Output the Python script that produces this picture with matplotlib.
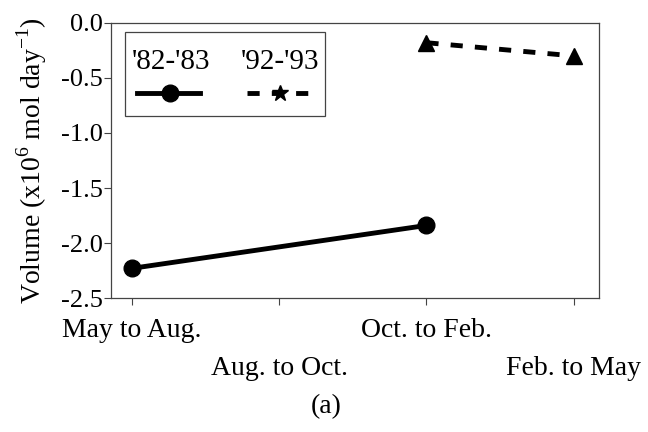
import matplotlib
matplotlib.use("Agg")
import matplotlib.pyplot as plt
from matplotlib.patches import Rectangle
from matplotlib.lines import Line2D

plt.rcParams['font.family'] = ['Liberation Serif', 'DejaVu Serif']
plt.rcParams['mathtext.fontset'] = 'custom'
plt.rcParams['mathtext.rm'] = 'Liberation Serif'
plt.rcParams['axes.unicode_minus'] = False

# Data
periods    = ["May to Aug.", "Aug. to Oct.", "Oct. to Feb.", "Feb. to May"]
x_8283     = [0, 2]
vol_8283   = [-2.23, -1.84]
x_9293     = [2, 3]
vol_9293   = [-0.18, -0.30]
yticks     = [0.0, -0.5, -1.0, -1.5, -2.0, -2.5]

fig = plt.figure(figsize=(6.48, 4.32), dpi=100)
ax = fig.add_axes([0.171, 0.310, 0.753, 0.637])

ax.plot(x_8283, vol_8283, color='black', lw=3.5, marker='o', ms=12)
ax.plot(x_9293, vol_9293, color='black', lw=3.5, ls=(0, (2.5, 2.5)), marker='^', ms=12)

ax.set_xlim(-0.143, 3.17)
ax.set_ylim(-2.5, 0.0)
ax.set_yticks(yticks)
ax.set_yticklabels(["%.1f" % v for v in yticks], fontsize=19)
ax.set_xticks(range(len(periods)))
ax.set_xticklabels(periods, fontsize=20)
# staggered category labels
for i, t in enumerate(ax.xaxis.get_major_ticks()):
    t.set_pad(9 if i % 2 == 0 else 37)

ax.tick_params(axis='both', direction='out', length=5, width=0.8, color='#444444')
ax.tick_params(axis='y', pad=1)
for s in ax.spines.values():
    s.set_linewidth(0.9)
    s.set_color('#444444')

ax.set_ylabel("Volume (x10$^6$ mol day$^{-1}$)", fontsize=20, labelpad=8)

# Legend (labels above handles)
ax.add_patch(Rectangle((0.029, 0.662), 0.41, 0.305, transform=ax.transAxes,
                       fill=False, ec='#444444', lw=0.9))
ax.text(0.123, 0.858, "'82-'83", transform=ax.transAxes, fontsize=21,
        ha='center', va='center')
ax.text(0.346, 0.858, "'92-'93", transform=ax.transAxes, fontsize=21,
        ha='center', va='center')
ax.add_line(Line2D([0.053, 0.182], [0.745, 0.745], transform=ax.transAxes,
                   color='black', lw=3.5))
ax.add_line(Line2D([0.121], [0.745], transform=ax.transAxes,
                   color='black', marker='o', ms=12))
ax.add_line(Line2D([0.279, 0.412], [0.745, 0.745], transform=ax.transAxes,
                   color='black', lw=3.5, ls=(0, (2.5, 2.5))))
ax.add_line(Line2D([0.346], [0.745], transform=ax.transAxes,
                   color='black', marker='*', ms=12))

fig.text(0.503, 0.058, "(a)", fontsize=20, ha='center', va='center')

fig.savefig("out.png", dpi=100)
